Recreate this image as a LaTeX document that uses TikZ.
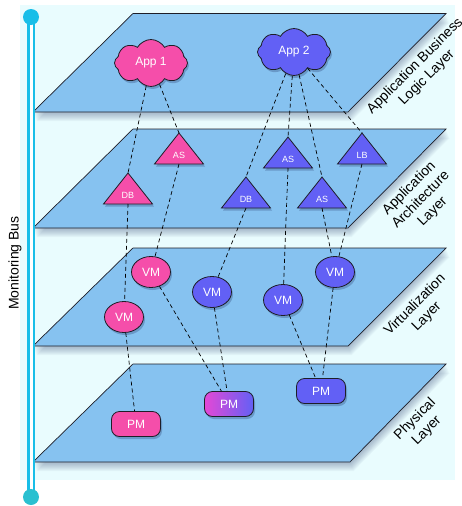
\documentclass[tikz,border=0pt]{standalone}
\usepackage{fontspec}
\setmainfont{Liberation Sans}
\usetikzlibrary{shapes.geometric,shapes.symbols,shadows}
\definecolor{bgc}{RGB}{233,252,254}
\definecolor{layerblue}{RGB}{134,194,240}
\definecolor{hpink}{RGB}{245,78,170}
\definecolor{vblue}{RGB}{98,96,245}
\definecolor{mag}{RGB}{228,72,214}
\definecolor{busblue}{RGB}{24,190,232}
\definecolor{busteal}{RGB}{42,192,208}
\definecolor{edgec}{RGB}{30,30,40}
\definecolor{shadc}{RGB}{40,60,110}
\newcommand\mytri[5]{%
  \coordinate (#1-top) at (#2,#3-31);
  \coordinate (#1-bot) at (#2,#3);
  \filldraw[tristyle, fill=#4] (#2-24.5,#3) -- (#1-top) -- (#2+24.5,#3) -- cycle;
  \node[trilabel] (#1) at (#2,#3-9) {#5};
}
\newcommand\mylayer[5]{% bottom y, top y, bl x, br x, tr x
  \foreach \k in {1,...,9}{
    \fill[shadc, opacity=0.045] (#3+0.4*\k,#1+\k) -- (#4+0.4*\k,#1+\k) -- (#5+0.4*\k,#2+\k) -- (133+0.4*\k,#2+\k) -- cycle;
  }
  \path[layer] (#3,#1) -- (#4,#1) -- (#5,#2) -- (133,#2) -- cycle;
}
\begin{document}
\begin{tikzpicture}[x=1pt,y=-1pt,
  layer/.style={fill=layerblue, draw=edgec, line width=0.7pt},
  nshadow/.style={drop shadow={shadow xshift=1.5pt, shadow yshift=-2.5pt, opacity=0.3, fill=shadc}},
  base/.style={draw=edgec, line width=0.8pt, text=white, inner sep=0pt, font=\fontsize{12}{14}\selectfont, nshadow},
  cloudnode/.style={base, cloud, cloud puffs=8, cloud puff arc=120, aspect=1.5, minimum width=73pt, minimum height=47pt},
  vm/.style={base, ellipse, minimum width=39pt, minimum height=31pt},
  pm/.style={base, rectangle, rounded corners=8pt, minimum width=49pt, minimum height=25pt},
  tristyle/.style={draw=edgec, line width=0.8pt, nshadow},
  trilabel/.style={text=white, inner sep=0pt, font=\fontsize{9}{10}\selectfont},
  conn/.style={draw=black, line width=0.7pt, dash pattern=on 4pt off 3pt},
  lbl/.style={rotate=45, align=center, font=\fontsize{14}{16.5}\selectfont, text=black},
  bus/.style={draw=busblue, line width=2.5pt, double=white, double distance=3pt}
]
\useasboundingbox (0,0) rectangle (461,506);
\fill[bgc] (20,5) rectangle (455,480);
\mylayer{112}{13.5}{33}{348}{446}
\mylayer{228}{129}{33}{348}{446}
\mylayer{346}{248}{33}{348}{446}
\mylayer{462}{364}{33}{350}{446}

% monitoring bus
\coordinate (bt) at (31,17);
\coordinate (bb) at (31,497);
\draw[bus] (bt) -- (bb);
\node[circle, fill=busblue, minimum size=16pt, inner sep=0pt] (bustop) at (bt) {};
\node[circle, fill=busteal, minimum size=16pt, inner sep=0pt] (busbot) at (bb) {};
\node[rotate=90, font=\fontsize{14}{16}\selectfont] (mbus) at (15,263) {Monitoring Bus};

% layer labels
\node[lbl] (l1) at (421,72) {Application Business\\Logic Layer};
\node[lbl] (l2) at (421,200) {Application\\Architecture\\Layer};
\node[lbl] (l3) at (421,311) {Virtualization\\Layer};
\node[lbl] (l4) at (421,425) {Physical\\Layer};

% application layer
\node[cloudnode, fill=hpink] (app1) at (151,63) {App 1};
\node[cloudnode, fill=vblue] (app2) at (294,52) {App 2};

% architecture layer
\mytri{db1}{128}{204}{hpink}{DB}
\mytri{as1}{179}{164}{hpink}{AS}
\mytri{as2}{288}{168}{vblue}{AS}
\mytri{lb}{362}{164}{vblue}{LB}
\mytri{db2}{246}{208}{vblue}{DB}
\mytri{as3}{322}{208}{vblue}{AS}

% virtualization layer
\node[vm, fill=hpink] (vm1) at (124,317) {VM};
\node[vm, fill=hpink] (vm2) at (151,272) {VM};
\node[vm, fill=vblue] (vm3) at (212,292) {VM};
\node[vm, fill=vblue] (vm4) at (283,300) {VM};
\node[vm, fill=vblue] (vm5) at (335,272) {VM};

% physical layer
\node[pm, fill=hpink] (pm1) at (136,424) {PM};
\node[pm, left color=mag, right color=vblue] (pm2) at (229,404) {PM};
\node[pm, fill=vblue] (pm3) at (321,391) {PM};

% connectors
\draw[conn] (app1) -- (db1-top);
\draw[conn] (app1) -- (as1-top);
\draw[conn] (app2) -- (db2-top);
\draw[conn] (app2) -- (as2-top);
\draw[conn] (app2) -- (as3-top);
\draw[conn] (app2) -- (lb-top);
\draw[conn] (db1-bot) -- (vm1);
\draw[conn] (as1-bot) -- (vm2);
\draw[conn] (db2-bot) -- (vm3);
\draw[conn] (as2-bot) -- (vm4);
\draw[conn] (as3-bot) -- (vm5);
\draw[conn] (lb-bot) -- (vm5);
\draw[conn] (vm1) -- (pm1);
\draw[conn] (vm2) -- (pm2);
\draw[conn] (vm3) -- (pm2);
\draw[conn] (vm4) -- (pm3);
\draw[conn] (vm5) -- (pm3);
\end{tikzpicture}
\end{document}
